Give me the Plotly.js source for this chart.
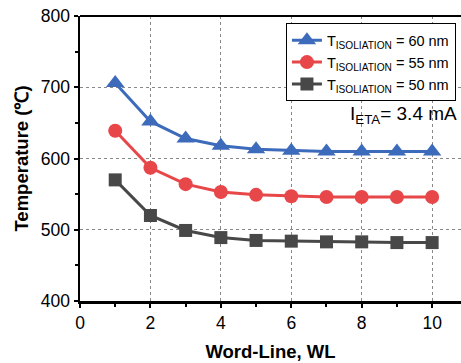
<!DOCTYPE html>
<html><head><meta charset="utf-8">
<script src="https://cdn.plot.ly/plotly-3.0.1.min.js"></script>
<style>html,body{margin:0;padding:0;background:#fff}</style>
</head><body><div id="chart" style="width:461px;height:363px"></div>
<script>
const wordLine = [1,2,3,4,5,6,7,8,9,10];
const t60 = [706,652,628,618,613,611,610,610,610,610];
const t55 = [639,587,564,553,549,547,546,546,546,546];
const t50 = [570,520,499,489,485,484,483,483,482,482];
const names = ['T<sub>ISOLIATION</sub> = 60 nm','T<sub>ISOLIATION</sub> = 55 nm','T<sub>ISOLIATION</sub> = 50 nm'];
const xTicks = [0,2,4,6,8,10];
const yTicks = [400,500,600,700,800];

const F = 'Liberation Sans, Arial, sans-serif';
const traces = [
  {x: wordLine, y: t60, name: names[0], mode:'lines+markers', line:{color:'#3d6bbb', width:3}, marker:{symbol:'triangle-up', size:16, color:'#3d6bbb'}},
  {x: wordLine, y: t55, name: names[1], mode:'lines+markers', line:{color:'#e8474a', width:3}, marker:{symbol:'circle', size:14, color:'#e8474a'}},
  {x: wordLine, y: t50, name: names[2], mode:'lines+markers', line:{color:'#484848', width:3}, marker:{symbol:'square', size:13, color:'#484848'}}
];
const layout = {
  width:461, height:363,
  margin:{l:80, r:0, t:16, b:62},
  paper_bgcolor:'#fff', plot_bgcolor:'#fff',
  font:{family:F, color:'#000'},
  showlegend:true,
  legend:{x:0.54, y:0.975, xanchor:'left', yanchor:'top', bgcolor:'#fff', bordercolor:'#000', borderwidth:1.2,
    font:{family:F, size:14.5, color:'#000'}, tracegroupgap:0, itemwidth:30, tracegroupgap:0},
  xaxis:{range:[0,10.82], tickvals:xTicks, ticktext:xTicks.map(String), ticks:'outside', ticklen:4, tickwidth:2, tickcolor:'#000',
    minor:{dtick:1, tick0:0, ticks:'outside', ticklen:3, tickwidth:2, tickcolor:'#000', showgrid:false},
    showline:true, linecolor:'#000', linewidth:2.5, mirror:false,
    showgrid:true, gridcolor:'#888', griddash:'dot', gridwidth:1.2, zeroline:false,
    tickfont:{size:17.5, family:F},
    title:{text:'<b>Word-Line, WL</b>', font:{size:18.5, family:F}, standoff:14}},
  yaxis:{range:[400,800], tickvals:yTicks, ticktext:yTicks.map(String), ticks:'outside', ticklen:4, tickwidth:2, tickcolor:'#000',
    minor:{dtick:50, tick0:400, ticks:'outside', ticklen:3, tickwidth:2, tickcolor:'#000', showgrid:false},
    showline:true, linecolor:'#000', linewidth:2.5,
    showgrid:true, gridcolor:'#888', griddash:'dot', gridwidth:1.2, zeroline:false,
    tickfont:{size:17.5, family:F},
    title:{text:'<b>Temperature (℃)</b>', font:{size:18.5, family:F}, standoff:8}},
  shapes:[{type:'line', xref:'paper', yref:'paper', x0:0, x1:1, y0:1, y1:1, line:{color:'#000', width:2}}],
  annotations:[{xref:'x', yref:'y', x:9.2, y:661, text:'I<sub>ETA</sub>= 3.4 mA', showarrow:false, xanchor:'center', yanchor:'middle', font:{size:19, family:F, color:'#000'}}]
};
Plotly.newPlot('chart', traces, layout, {displayModeBar:false, staticPlot:true});
</script></body></html>
